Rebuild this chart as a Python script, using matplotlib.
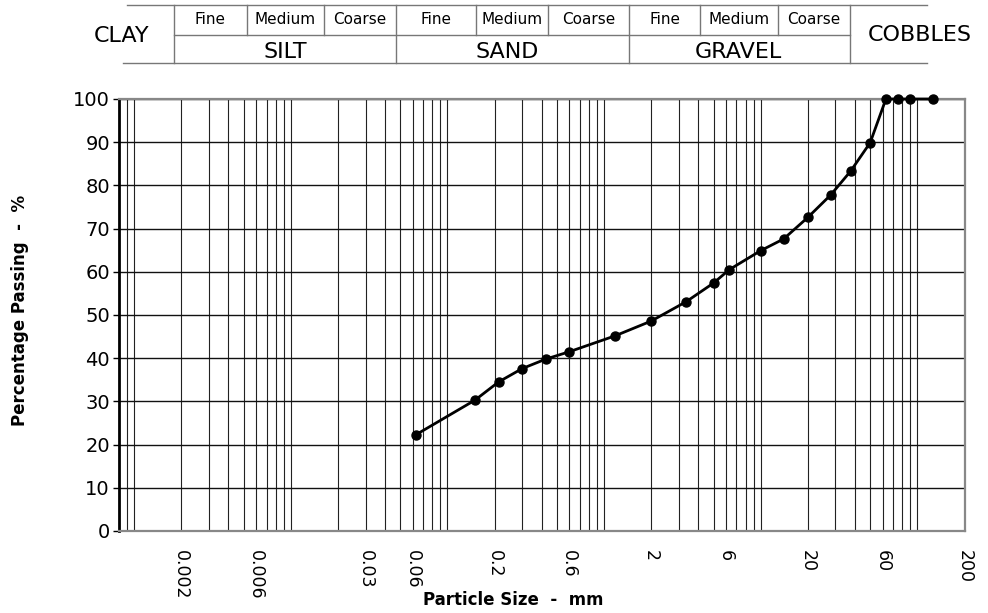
import matplotlib
matplotlib.use("Agg")
import matplotlib.pyplot as plt
from matplotlib.lines import Line2D
import numpy as np

# sieve analysis (particle size in mm, % passing)
size_mm = [0.063, 0.15, 0.212, 0.3, 0.425, 0.6, 1.18, 2.0, 3.35, 5.0, 6.3,
           10, 14, 20, 28, 37.5, 50, 63, 75, 90, 125]
passing = [22.3, 30.3, 34.5, 37.6, 39.8, 41.5, 45.2, 48.6, 53.1, 57.4, 60.5,
           64.9, 67.6, 72.6, 77.8, 83.3, 89.9, 100, 100, 100, 100]

tick_vals = [0.002, 0.006, 0.03, 0.06, 0.2, 0.6, 2, 6, 20, 60, 200]
tick_labels = ["0.002", "0.006", "0.03", "0.06", "0.2", "0.6", "2", "6", "20", "60", "200"]

W, H = 988, 613
fig = plt.figure(figsize=(W / 100, H / 100), dpi=100)

# axes placed in pixel terms
left, right, top, bottom = 119, 964.5, 99, 531
ax = fig.add_axes([left / W, 1 - bottom / H, (right - left) / W, (bottom - top) / H])

ax.plot(size_mm, passing, color="black", lw=2, marker="o", ms=6.5, clip_on=False, zorder=5)

ax.set_xscale("log")
ax.set_xlim(0.0008, 200)
ax.set_ylim(0, 100)

minor = [k * 10.0 ** n for n in range(-4, 3) for k in range(1, 10)]
minor = [m for m in minor if 0.0008 < m < 200]
ax.set_xticks(minor, minor=True)
ax.set_xticks(tick_vals)
ax.set_xticklabels(tick_labels)
ax.xaxis.set_minor_formatter(matplotlib.ticker.NullFormatter())
ax.tick_params(axis="x", which="both", length=0, pad=13.5, labelrotation=270, labelsize=12.5)
ax.set_yticks(range(0, 101, 10))
ax.tick_params(axis="y", length=4.5, width=1, pad=2, labelsize=14)

ax.grid(True, axis="x", which="both", color="#222222", lw=0.8)
ax.grid(True, axis="y", which="major", color="#111111", lw=1)
ax.set_axisbelow(True)

for s in ["top", "bottom", "right"]:
    ax.spines[s].set_color("#888888")
    ax.spines[s].set_linewidth(1.6)
ax.spines["left"].set_color("black")
ax.spines["left"].set_linewidth(2)

fig.text(513 / W, 1 - 600 / H, "Particle Size  -  mm", ha="center", va="center",
         fontsize=12, fontweight="bold")
fig.text(20 / W, 1 - 310 / H, "Percentage Passing  -  %", ha="center", va="center",
         rotation=90, fontsize=12, fontweight="bold")

# classification band across the top
def hline(x0, x1, y):
    fig.add_artist(Line2D([x0 / W, x1 / W], [1 - y / H, 1 - y / H], color="#777777", lw=1))

def vline(x, y0, y1):
    fig.add_artist(Line2D([x / W, x / W], [1 - y0 / H, 1 - y1 / H], color="#777777", lw=1))

hline(127, 927, 5)
hline(174, 850, 34.5)
hline(123, 927, 62.5)
for x in [174, 396, 629, 850]:
    vline(x, 5, 62.5)
for x in [247, 324, 476, 548, 700, 778]:
    vline(x, 5, 34.5)

def label(x, y, s, size):
    fig.text(x / W, 1 - y / H, s, ha="center", va="center", fontsize=size)

sub = ["Fine", "Medium", "Coarse"]
for xs in [(210, 285, 360), (436, 512, 589), (665, 739, 814)]:
    for x, s in zip(xs, sub):
        label(x, 20, s, 11)
label(122, 35.5, "CLAY", 16)
label(285, 51.5, "SILT", 16)
label(507, 51.5, "SAND", 16)
label(738, 51.5, "GRAVEL", 16)
label(920, 35, "COBBLES", 16)

fig.savefig("out.png", dpi=100)
